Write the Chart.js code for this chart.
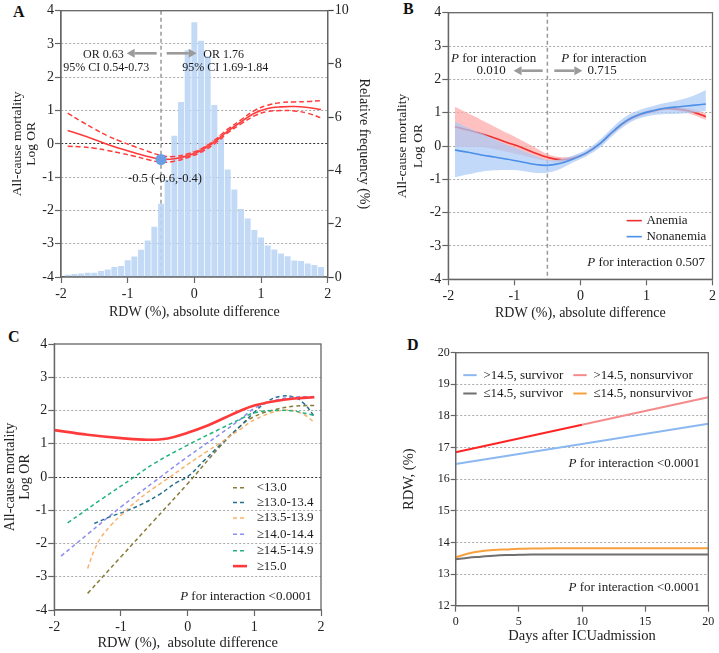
<!DOCTYPE html>
<html><head><meta charset="utf-8">
<script src="https://cdn.jsdelivr.net/npm/chart.js@4.4.1/dist/chart.umd.min.js"></script>
<style>
html,body{margin:0;padding:0;background:#fff}
body{width:719px;height:653px;position:relative;overflow:hidden;font-family:"Liberation Serif","Times New Roman",serif}
canvas{position:absolute}
.lbl{position:absolute;font-weight:bold;font-size:16px;line-height:16px;color:#111}
</style></head><body>
<div class="lbl" style="left:13px;top:4px">A</div>
<div class="lbl" style="left:403px;top:1px">B</div>
<div class="lbl" style="left:8px;top:329px">C</div>
<div class="lbl" style="left:407px;top:337px">D</div>
<canvas id="cA"></canvas><canvas id="cB"></canvas><canvas id="cC"></canvas><canvas id="cD"></canvas>
<script>
const FONT = '"Liberation Serif","Times New Roman",serif';

// ---------------- Panel A data ----------------
const aBinX  = [-1.9,-1.8,-1.7,-1.6,-1.5,-1.4,-1.3,-1.2,-1.1,-1.0,-0.9,-0.8,-0.7,-0.6,-0.5,-0.4,-0.3,-0.2,-0.1,0.0,0.1,0.2,0.3,0.4,0.5,0.6,0.7,0.8,0.9,1.0,1.1,1.2,1.3,1.4,1.5,1.6,1.7,1.8,1.9];
const aFreq  = [0.07,0.10,0.12,0.15,0.15,0.21,0.27,0.36,0.40,0.62,0.76,1.01,1.36,1.87,2.74,3.64,5.29,6.56,8.50,9.55,8.86,8.28,6.45,5.20,4.02,3.27,2.54,2.18,1.75,1.47,1.17,1.02,0.87,0.77,0.61,0.59,0.49,0.44,0.36];
const aCurveX = [-1.9,-1.7,-1.5,-1.3,-1.1,-0.9,-0.7,-0.5,-0.3,-0.1,0.1,0.3,0.5,0.7,0.9,1.1,1.3,1.5,1.7,1.9];
const aLogOR  = [0.40,0.27,0.13,-0.02,-0.15,-0.27,-0.38,-0.46,-0.45,-0.36,-0.20,0.05,0.38,0.66,0.92,1.06,1.11,1.12,1.09,1.03];
const aUpper  = [0.92,0.68,0.45,0.24,0.07,-0.08,-0.22,-0.35,-0.38,-0.30,-0.15,0.10,0.44,0.72,1.00,1.16,1.24,1.26,1.27,1.30];
const aLower  = [-0.07,-0.09,-0.13,-0.20,-0.28,-0.37,-0.47,-0.55,-0.52,-0.41,-0.25,0.00,0.33,0.60,0.84,0.97,1.00,0.99,0.92,0.78];
const aKnotX  = [-0.2,-0.1,0.0,0.1,0.2,0.3,0.4];
const aKnotY  = [-0.41,-0.36,-0.29,-0.20,-0.08,0.05,0.20];
const aCutX   = [-0.5];
const aCutY   = [-0.47];

// ---------------- Panel B data ----------------
const bX        = [-1.9,-1.7,-1.5,-1.3,-1.1,-0.9,-0.7,-0.5,-0.3,-0.1,0.1,0.3,0.5,0.7,0.9,1.1,1.3,1.5,1.7,1.9];
const bAnemia   = [0.58,0.48,0.37,0.24,0.10,-0.04,-0.20,-0.34,-0.41,-0.36,-0.20,0.08,0.44,0.75,0.94,1.05,1.12,1.10,1.02,0.88];
const bAnemiaUp = [1.18,0.98,0.78,0.58,0.38,0.18,-0.03,-0.24,-0.33,-0.30,-0.15,0.13,0.50,0.81,1.00,1.10,1.17,1.16,1.10,0.98];
const bAnemiaLo = [-0.02,-0.02,-0.03,-0.10,-0.18,-0.27,-0.37,-0.45,-0.49,-0.42,-0.25,0.03,0.38,0.69,0.88,1.00,1.07,1.04,0.94,0.78];
const bNon      = [-0.12,-0.19,-0.27,-0.33,-0.40,-0.47,-0.55,-0.58,-0.52,-0.38,-0.20,0.08,0.45,0.76,0.95,1.06,1.14,1.18,1.22,1.26];
const bNonUp    = [0.73,0.55,0.38,0.20,0.02,-0.12,-0.28,-0.42,-0.40,-0.28,-0.10,0.20,0.58,0.90,1.08,1.20,1.30,1.38,1.50,1.68];
const bNonLo    = [-0.94,-0.85,-0.77,-0.73,-0.72,-0.74,-0.80,-0.80,-0.68,-0.48,-0.30,-0.04,0.33,0.64,0.83,0.92,0.96,0.97,1.00,1.05];

// ---------------- Panel C data ----------------
const cLabels = ['<13.0','\u226513.0-13.4','\u226513.5-13.9','\u226514.0-14.4','\u226514.5-14.9','\u226515.0'];
const c1X = [-1.5,-1.0,-0.5,0,0.5,0.8,1.0,1.3,1.6,1.9];
const c1Y = [-3.5,-2.4,-1.3,-0.2,0.95,1.55,1.82,2.02,2.13,2.15];
const c2X = [-1.4,-1.17,-0.92,-0.67,-0.42,-0.17,0,0.25,0.5,0.8,1.0,1.2,1.4,1.6,1.75,1.9];
const c2Y = [-1.4,-1.2,-1.02,-0.8,-0.52,-0.17,0.01,0.5,0.99,1.55,1.95,2.28,2.43,2.4,2.2,1.82];
const c3X = [-1.5,-1.4,-1.3,-1.15,-1.0,-0.75,-0.5,-0.25,0,0.3,0.5,0.8,1.0,1.4,1.7,1.9];
const c3Y = [-2.75,-2.2,-1.82,-1.45,-1.15,-0.7,-0.32,0.02,0.38,0.78,1.04,1.45,1.72,2.0,1.92,1.65];
const c4X = [-1.9,-1.5,-1.0,-0.5,0,0.5,0.8,1.0,1.3,1.6,1.9];
const c4Y = [-2.38,-1.72,-0.9,-0.14,0.61,1.31,1.75,2.06,2.3,2.4,2.42];
const c5X = [-1.8,-1.3,-0.8,-0.5,0,0.5,0.8,1.0,1.3,1.6,1.9];
const c5Y = [-1.38,-0.68,0,0.41,0.96,1.46,1.75,1.93,2.0,1.98,1.85];
const c6X = [-2,-1.5,-1.0,-0.6,-0.3,0,0.3,0.5,0.8,1.0,1.3,1.6,1.9];
const c6Y = [1.41,1.27,1.17,1.12,1.16,1.33,1.55,1.73,2.0,2.15,2.28,2.36,2.4];

// ---------------- Panel D data ----------------
const dLabels   = ['>14.5, survivor','>14.5, nonsurvivor','\u226414.5, survivor','\u226414.5, nonsurvivor'];
const dHighX    = [0,10,20];
const dHighSurv = [16.48,17.11,17.75];
const dHighNon  = [16.85,17.72,18.59];
const dLowX     = [0,1,2,3,4,5,6,8,10,15,20];
const dLowSurv  = [13.47,13.52,13.55,13.58,13.60,13.61,13.62,13.62,13.62,13.62,13.62];
const dLowNon   = [13.53,13.65,13.72,13.76,13.78,13.80,13.81,13.82,13.82,13.82,13.82];

const pts = (xs, ys) => xs.map((x, i) => ({x, y: ys[i]}));

// ---------------- annotation plugin ----------------
function drawRuns(ctx, runs, x, y, size, align, color) {
  const fonts = runs.map(r => (r[1] ? 'italic ' : '') + size + 'px ' + FONT);
  const widths = runs.map((r, i) => { ctx.font = fonts[i]; return ctx.measureText(r[0]).width; });
  const total = widths.reduce((a, b) => a + b, 0);
  let sx = align === 'center' ? x - total / 2 : align === 'right' ? x - total : x;
  ctx.fillStyle = color; ctx.textBaseline = 'middle'; ctx.textAlign = 'left';
  runs.forEach((r, i) => { ctx.font = fonts[i]; ctx.fillText(r[0], sx, y); sx += widths[i]; });
}
function drawArrow(ctx, x1, y1, x2, y2, color, w, hl, hw) {
  const ang = Math.atan2(y2 - y1, x2 - x1);
  const bx = x2 - hl * Math.cos(ang), by = y2 - hl * Math.sin(ang);
  ctx.save();
  ctx.strokeStyle = color; ctx.lineWidth = w; ctx.setLineDash([]);
  ctx.beginPath(); ctx.moveTo(x1, y1); ctx.lineTo(bx, by); ctx.stroke();
  ctx.fillStyle = color; ctx.beginPath(); ctx.moveTo(x2, y2);
  ctx.lineTo(bx - hw * Math.sin(ang), by + hw * Math.cos(ang));
  ctx.lineTo(bx + hw * Math.sin(ang), by - hw * Math.cos(ang));
  ctx.closePath(); ctx.fill(); ctx.restore();
}
const annot = {
  id: 'annot',
  beforeDatasetsDraw(chart, args, o) {
    const {ctx, chartArea: ca, scales} = chart;
    (o.vlines || []).forEach(v => {
      const px = scales.x.getPixelForValue(v.x);
      ctx.save(); ctx.strokeStyle = v.color; ctx.lineWidth = v.width; ctx.setLineDash(v.dash);
      ctx.beginPath(); ctx.moveTo(px, ca.top); ctx.lineTo(px, ca.bottom); ctx.stroke(); ctx.restore();
    });
  },
  afterDatasetsDraw(chart, args, o) {
    const {ctx, scales} = chart;
    const X = v => scales.x.getPixelForValue(v), Y = v => scales.y.getPixelForValue(v);
    (o.arrows || []).forEach(a => drawArrow(ctx, X(a.x1), Y(a.y), X(a.x2), Y(a.y), '#9b9b9b', 2.6, 8, 4.5));
    ctx.save();
    (o.texts || []).forEach(t => {
      const runs = t.italicP ? [['P', true], [t.text.slice(1), false]] : [[t.text, false]];
      drawRuns(ctx, runs, X(t.x), Y(t.y), t.size, t.align, '#1a1a1a');
    });
    (o.legend || []).forEach(l => {
      const ds = chart.data.datasets[l.ds];
      ctx.save();
      ctx.strokeStyle = l.color || ds.borderColor; ctx.lineWidth = l.width || ds.borderWidth;
      ctx.setLineDash(ds.borderDash || []);
      ctx.beginPath(); ctx.moveTo(X(l.x1), Y(l.y)); ctx.lineTo(X(l.x2), Y(l.y)); ctx.stroke();
      ctx.restore();
      drawRuns(ctx, [[ds.label, false]], X(l.tx), Y(l.y), l.size, 'left', '#1a1a1a');
    });
    ctx.restore();
  },
  afterDraw(chart, args, o) {
    const {ctx, chartArea: ca} = chart;
    ctx.save(); ctx.strokeStyle = '#666'; ctx.lineWidth = 1.3; ctx.setLineDash([]);
    ctx.strokeRect(ca.left, ca.top, ca.right - ca.left, ca.bottom - ca.top);
    ctx.restore();
  }
};
Chart.register(annot);
Chart.defaults.font.family = FONT;
Chart.defaults.color = '#222';
Chart.defaults.plugins.legend.display = false;
Chart.defaults.plugins.tooltip.enabled = false;

function mk(id, left, top, W, H, area, config) {
  const c = document.getElementById(id);
  c.width = W; c.height = H;
  c.style.left = left + 'px'; c.style.top = top + 'px';
  c.style.width = W + 'px'; c.style.height = H + 'px';
  const o = config.options;
  o.responsive = false; o.animation = false; o.devicePixelRatio = 1;
  const s = o.scales;
  o.layout = {padding: {top: area.top, left: 0, bottom: 0, right: s.y1 ? 0 : W - area.right}};
  s.x.afterFit = sc => { sc.height = H - area.bottom; };
  s.y.afterFit = sc => { sc.width = area.left; };
  if (s.y1) s.y1.afterFit = sc => { sc.width = W - area.right; };
  return new Chart(c, config);
}

function gridColor(zeroDark) {
  return c => {
    const v = c.tick ? c.tick.value : null;
    const sc = c.scale;
    if (v === sc.min || v === sc.max) return 'rgba(0,0,0,0)';
    if (zeroDark && v === 0) return '#333';
    return '#a8a8a8';
  };
}
function xAxis(min, max, step, title, tfs, tpad, titleSize, titlePadB) {
  return {type: 'linear', min, max, offset: false,
    ticks: {stepSize: step, font: {size: tfs}, padding: tpad, color: '#222', maxRotation: 0},
    grid: {drawOnChartArea: false, drawTicks: true, tickLength: 6, tickColor: '#666', tickWidth: 1.2, offset: false},
    border: {color: '#666', width: 1.2},
    title: {display: true, text: title, color: '#222', font: {size: titleSize, lineHeight: 1}, padding: {top: 0, bottom: titlePadB}}};
}
function yAxis(min, max, step, title, tfs, tl, tpad, titleSize, titleLH, titlePadT, zeroDark) {
  return {type: 'linear', position: 'left', min, max,
    ticks: {stepSize: step, font: {size: tfs}, padding: tpad, color: '#222'},
    grid: {color: gridColor(zeroDark), lineWidth: 1, drawTicks: true, tickLength: tl, tickColor: '#666', tickWidth: 1.2},
    border: {color: '#666', width: 1.2, dash: [2, 2]},
    title: {display: true, text: title, color: '#222', font: {size: titleSize, lineHeight: titleLH}, padding: {top: titlePadT, bottom: 0}}};
}
const line = (data, color, width, dash, extra) => Object.assign({type: 'line', data, borderColor: color, borderWidth: width,
  borderDash: dash || [], pointRadius: 0, tension: 0.4, fill: false}, extra || {});

// ---------------- Panel A ----------------
mk('cA', 0, 0, 376, 320, {left: 61, top: 10.7, right: 327.7, bottom: 277}, {
  type: 'line',
  data: {datasets: [
    {type: 'line', data: pts(aCutX, aCutY), showLine: false, pointRadius: 5.5, pointBackgroundColor: '#6a9fe6', pointBorderColor: '#6a9fe6', pointBorderWidth: 0},
    {type: 'line', data: pts(aKnotX, aKnotY), showLine: false, pointStyle: 'star', pointRadius: 2.6, pointBorderColor: '#ff4d4d', pointBorderWidth: 1},
    line(pts(aCurveX, aLogOR), '#ff3b3b', 1.6),
    line(pts(aCurveX, aUpper), '#ff3b3b', 1.5, [5, 3]),
    line(pts(aCurveX, aLower), '#ff3b3b', 1.5, [5, 3]),
    {type: 'bar', yAxisID: 'y1', data: pts(aBinX, aFreq), backgroundColor: 'rgba(188,214,246,0.9)', barThickness: 5.3, borderWidth: 0}
  ]},
  options: {
    scales: {
      x: xAxis(-2, 2, 1, 'RDW (%), absolute difference', 14, 3, 14, 1),
      y: yAxis(-4, 4, 1, ['All-cause mortality', 'Log OR'], 14, 6, 1, 13.5, 14 / 13.5, 10.8, true),
      y1: {type: 'linear', position: 'right', min: 0, max: 10,
        ticks: {stepSize: 2, font: {size: 14}, padding: 1, color: '#222'},
        grid: {drawOnChartArea: false, drawTicks: true, tickLength: 6, tickColor: '#444', tickWidth: 1.2},
        border: {color: '#444', width: 1.2},
        title: {display: true, text: 'Relative frequency (%)', color: '#222', font: {size: 14, lineHeight: 1}, padding: {top: 5, bottom: 0}}}
    },
    plugins: {annot: {
      vlines: [{x: -0.5, color: '#999', width: 1.5, dash: [4, 3]}],
      arrows: [{x1: -0.565, x2: -1.015, y: 2.72}, {x1: -0.415, x2: 0.035, y: 2.72}],
      texts: [
        {x: -1.365, y: 2.66, text: 'OR 0.63', align: 'center', size: 12},
        {x: -1.32, y: 2.27, text: '95% CI 0.54-0.73', align: 'center', size: 12},
        {x: 0.44, y: 2.66, text: 'OR 1.76', align: 'center', size: 12},
        {x: 0.465, y: 2.27, text: '95% CI 1.69-1.84', align: 'center', size: 12},
        {x: -0.44, y: -1.04, text: '-0.5 (-0.6,-0.4)', align: 'center', size: 12.5}
      ]
    }}
  }
});

// ---------------- Panel B ----------------
mk('cB', 376, 0, 343, 320, {left: 72.3, top: 12.7, right: 338.3, bottom: 279.3}, {
  type: 'line',
  data: {datasets: [
    line(pts(bX, bNon), '#4a8fe8', 1.6, null, {label: 'Nonanemia'}),
    line(pts(bX, bNonUp), 'rgba(0,0,0,0)', 0, null, {fill: '+1', backgroundColor: 'rgba(170,202,246,0.72)'}),
    line(pts(bX, bNonLo), 'rgba(0,0,0,0)', 0),
    line(pts(bX, bAnemia), '#ee2f2f', 1.6, null, {label: 'Anemia'}),
    line(pts(bX, bAnemiaUp), 'rgba(0,0,0,0)', 0, null, {fill: '+1', backgroundColor: 'rgba(255,165,165,0.7)'}),
    line(pts(bX, bAnemiaLo), 'rgba(0,0,0,0)', 0)
  ]},
  options: {
    scales: {
      x: xAxis(-2, 2, 1, 'RDW (%), absolute difference', 14, 3, 14, 0),
      y: yAxis(-4, 4, 1, ['All-cause mortality', 'Log OR'], 14, 6, 1, 13.5, 16 / 13.5, 18.5, false)
    },
    plugins: {annot: {
      vlines: [{x: -0.5, color: '#999', width: 1.5, dash: [4, 3]}],
      arrows: [{x1: -0.571, x2: -1.012, y: 2.26}, {x1: -0.395, x2: 0.03, y: 2.26}],
      texts: [
        {x: -1.313, y: 2.63, text: 'P for interaction', italicP: true, align: 'center', size: 13},
        {x: -1.35, y: 2.26, text: '0.010', align: 'center', size: 13},
        {x: 0.356, y: 2.63, text: 'P for interaction', italicP: true, align: 'center', size: 13},
        {x: 0.33, y: 2.26, text: '0.715', align: 'center', size: 13},
        {x: 1.885, y: -3.49, text: 'P for interaction 0.507', italicP: true, align: 'right', size: 13}
      ],
      legend: [
        {ds: 3, x1: 0.70, x2: 0.93, y: -2.24, tx: 1.0, size: 13},
        {ds: 0, x1: 0.70, x2: 0.93, y: -2.72, tx: 1.0, size: 13}
      ]
    }}
  }
});

// ---------------- Panel C ----------------
const cColors = ['#8a7b3a', '#236f8e', '#f7b26e', '#8e8ef2', '#22b47c', '#ff3a3a'];
mk('cC', 0, 320, 376, 333, {left: 54.3, top: 24, right: 321, bottom: 290}, {
  type: 'line',
  data: {datasets: [
    line(pts(c6X, c6Y), cColors[5], 2.6, null, {label: cLabels[5]}),
    line(pts(c5X, c5Y), cColors[4], 1.5, [4, 3], {label: cLabels[4]}),
    line(pts(c4X, c4Y), cColors[3], 1.5, [4, 3], {label: cLabels[3]}),
    line(pts(c3X, c3Y), cColors[2], 1.5, [4, 3], {label: cLabels[2]}),
    line(pts(c2X, c2Y), cColors[1], 1.5, [4, 3], {label: cLabels[1]}),
    line(pts(c1X, c1Y), cColors[0], 1.5, [4, 3], {label: cLabels[0]})
  ]},
  options: {
    scales: {
      x: xAxis(-2, 2, 1, 'RDW (%),  absolute difference', 14, 3, 14.5, 3),
      y: yAxis(-4, 4, 1, ['All-cause mortality', 'Log OR'], 14, 6, 1, 14, 15.5 / 14, 2.5, true)
    },
    plugins: {annot: {
      texts: [{x: 1.86, y: -3.59, text: 'P for interaction <0.0001', italicP: true, align: 'right', size: 13}],
      legend: [
        {ds: 5, x1: 0.68, x2: 0.89, y: -0.32, tx: 1.035, size: 13},
        {ds: 4, x1: 0.68, x2: 0.89, y: -0.77, tx: 1.035, size: 13},
        {ds: 3, x1: 0.68, x2: 0.89, y: -1.23, tx: 1.035, size: 13},
        {ds: 2, x1: 0.68, x2: 0.89, y: -1.72, tx: 1.035, size: 13},
        {ds: 1, x1: 0.68, x2: 0.89, y: -2.22, tx: 1.035, size: 13},
        {ds: 0, x1: 0.68, x2: 0.89, y: -2.68, tx: 1.035, size: 13}
      ]
    }}
  }
});

// ---------------- Panel D ----------------
mk('cD', 376, 320, 343, 333, {left: 79.7, top: 32.7, right: 332.3, bottom: 285.7}, {
  type: 'line',
  data: {datasets: [
    line(pts(dHighX, dHighNon), '#ff2424', 2, null, {label: dLabels[1], tension: 0,
      segment: {borderColor: c => (c.p0.parsed.x < 10 ? '#ff2424' : '#f58a8a')}}),
    line(pts(dHighX, dHighSurv), '#8cb8f2', 2, null, {label: dLabels[0], tension: 0}),
    line(pts(dLowX, dLowNon), '#f7a13e', 2, null, {label: dLabels[3], cubicInterpolationMode: 'monotone'}),
    line(pts(dLowX, dLowSurv), '#6f6f6f', 2, null, {label: dLabels[2], cubicInterpolationMode: 'monotone'})
  ]},
  options: {
    scales: {
      x: xAxis(0, 20, 5, 'Days after ICUadmission', 12, 3, 14.5, 10),
      y: yAxis(12, 20, 1, 'RDW, (%)', 12, 5, 1, 14.5, 1, 26, false)
    },
    plugins: {annot: {
      texts: [
        {x: 19.34, y: 16.48, text: 'P for interaction <0.0001', italicP: true, align: 'right', size: 13},
        {x: 19.34, y: 12.57, text: 'P for interaction <0.0001', italicP: true, align: 'right', size: 13}
      ],
      legend: [
        {ds: 1, x1: 0.6, x2: 1.66, y: 19.29, tx: 2.19, size: 13},
        {ds: 0, x1: 9.31, x2: 10.37, y: 19.29, tx: 10.9, size: 13, color: '#f58a8a'},
        {ds: 3, x1: 0.6, x2: 1.66, y: 18.71, tx: 2.19, size: 13},
        {ds: 2, x1: 9.31, x2: 10.37, y: 18.71, tx: 10.9, size: 13}
      ]
    }}
  }
});
</script>
</body></html>
